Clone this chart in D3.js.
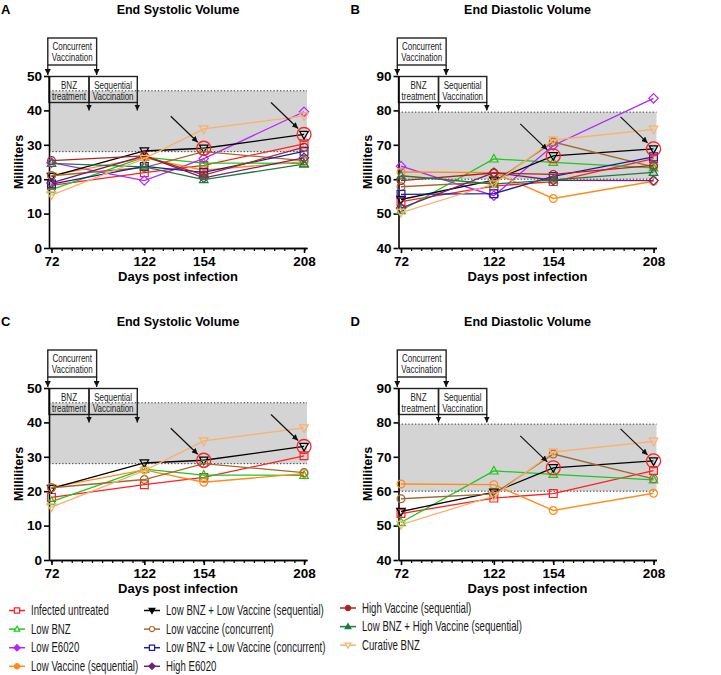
<!DOCTYPE html>
<html>
<head>
<meta charset="utf-8">
<script src="https://cdn.jsdelivr.net/npm/d3@7"></script>
<style>
  body { margin: 0; background: #fff; }
  svg text { font-family: Arial, "Liberation Sans", sans-serif; }
</style>
</head>
<body>
<svg id="chart" width="721" height="675"></svg>
<script>
// days of measurement (x categories)
var days = [72, 122, 154, 208];

var seriesNames = [
  "Infected untreated", "Low BNZ", "Low E6020", "Low Vaccine (sequential)",
  "Low BNZ + Low Vaccine (sequential)", "Low vaccine (concurrent)",
  "Low BNZ + Low Vaccine (concurrent)", "High E6020",
  "High Vaccine (sequential)", "Low BNZ + High Vaccine (sequential)", "Curative BNZ"
];
var seriesColors = ["#ff2020", "#1ec81e", "#b026ff", "#ff8c1a", "#000000", "#a0692e",
  "#1c1c9c", "#702070", "#b02222", "#1f7a3f", "#fbb06a"];
var seriesShapes = ["square", "triangle", "diamond", "circle", "triangleDown", "circle",
  "square", "diamond", "circle", "triangle", "triangleDown"];
var legendFilled = [false, false, true, true, true, false, false, true, true, true, false];

// End systolic volume (ml), one array per group
var esvInfected = [18.2, 21.9, 24.0, 30.3];
var esvLowBNZ = [17.0, 26.4, 24.7, 24.6];
var esvLowE6020 = [24.8, 19.6, 26.0, 39.6];
var esvLowVacSeq = [21.1, 26.2, 22.6, 25.1];
var esvBNZLowVacSeq = [20.8, 28.2, 29.0, 33.0];
var esvLowVacConc = [21.0, 23.4, 28.0, 25.4];
var esvBNZLowVacConc = [18.6, 23.7, 22.0, 28.1];
var esvHighE6020 = [18.9, 26.8, 20.4, 26.2];
var esvHighVacSeq = [25.4, 26.8, 21.2, 29.3];
var esvBNZHighVacSeq = [24.6, 23.6, 19.9, 24.4];
var esvCurative = [15.4, 26.0, 34.6, 38.4];

// End diastolic volume (ml)
var edvInfected = [53.5, 58.0, 59.3, 66.0];
var edvLowBNZ = [50.9, 65.9, 64.9, 63.3];
var edvLowE6020 = [63.8, 55.2, 69.8, 83.5];
var edvLowVacSeq = [62.1, 61.9, 54.4, 59.4];
var edvBNZLowVacSeq = [54.1, 59.7, 66.8, 68.8];
var edvLowVacConc = [57.8, 59.2, 70.8, 63.6];
var edvBNZLowVacConc = [55.6, 55.8, 60.8, 66.5];
var edvHighE6020 = [51.6, 61.9, 59.7, 59.6];
var edvHighVacSeq = [59.6, 61.8, 61.4, 64.0];
var edvBNZHighVacSeq = [61.0, 58.6, 59.8, 62.0];
var edvCurative = [50.3, 58.6, 71.4, 74.5];

var esvSeries = [esvInfected, esvLowBNZ, esvLowE6020, esvLowVacSeq, esvBNZLowVacSeq, esvLowVacConc,
  esvBNZLowVacConc, esvHighE6020, esvHighVacSeq, esvBNZHighVacSeq, esvCurative];
var edvSeries = [edvInfected, edvLowBNZ, edvLowE6020, edvLowVacSeq, edvBNZLowVacSeq, edvLowVacConc,
  edvBNZLowVacConc, edvHighE6020, edvHighVacSeq, edvBNZHighVacSeq, edvCurative];

// normal ranges (shaded bands)
var esvNormal = [28, 45.7];
var edvNormal = [60, 79.5];

// groups shown in the lower panels
var subsetGroups = [0, 1, 3, 4, 5, 10];
// highlighted group and days (red circles + arrows)
var highlightGroup = 4;
var highlightDays = [154, 208];

// treatment windows in days
var concurrentWindow = [70.0, 96.3];
var bnzWindow = [70.65, 92.2];
var sequentialWindow = [92.2, 118.2];

var plotW = 258, plotH = 172;
var allGroups = d3.range(seriesNames.length);

var panels = [
  { letter: "A", title: "End Systolic Volume", left: 49, top: 76, data: esvSeries, yDomain: [0, 50], band: esvNormal, groups: allGroups },
  { letter: "B", title: "End Diastolic Volume", left: 398.5, top: 76, data: edvSeries, yDomain: [40, 90], band: edvNormal, groups: allGroups },
  { letter: "C", title: "End Systolic Volume", left: 49, top: 388, data: esvSeries, yDomain: [0, 50], band: esvNormal, groups: subsetGroups },
  { letter: "D", title: "End Diastolic Volume", left: 398.5, top: 388, data: edvSeries, yDomain: [40, 90], band: edvNormal, groups: subsetGroups }
];

var svg = d3.select("#chart");

// arrowhead
svg.append("defs").append("marker")
    .attr("id", "arrow")
    .attr("viewBox", "0 0 10 10")
    .attr("refX", 10).attr("refY", 5)
    .attr("markerWidth", 6).attr("markerHeight", 6)
    .attr("markerUnits", "userSpaceOnUse")
    .attr("orient", "auto")
  .append("path")
    .attr("d", "M0,0L10,5L0,10Z")
    .attr("fill", "#111");

function markerPath(shape, r) {
  if (shape == "square") return "M" + (-r) + "," + (-r) + "h" + 2 * r + "v" + 2 * r + "h" + (-2 * r) + "Z";
  if (shape == "circle") return d3.symbol(d3.symbolCircle, Math.PI * r * r)();
  if (shape == "triangle") return "M0," + (-r * 1.15) + "L" + (r * 1.1) + "," + (r * 0.8) + "L" + (-r * 1.1) + "," + (r * 0.8) + "Z";
  if (shape == "triangleDown") return "M0," + (r * 1.15) + "L" + (r * 1.1) + "," + (-r * 0.8) + "L" + (-r * 1.1) + "," + (-r * 0.8) + "Z";
  return "M0," + (-r * 1.2) + "L" + (r * 1.2) + ",0L0," + (r * 1.2) + "L" + (-r * 1.2) + ",0Z";
}

// condensed text (no narrow font installed, so squeeze horizontally)
function narrowText(sel, x, y, s, size, sx, anchor) {
  return sel.append("text")
      .attr("transform", "translate(" + x + "," + y + ") scale(" + sx + ",1)")
      .attr("text-anchor", anchor)
      .attr("font-size", size + "px")
      .attr("fill", "#1a1a1a")
      .text(s);
}

var minorTicks = d3.range(72, 209, 5.45);

panels.forEach(function(p) {
  var x = d3.scaleLinear().domain([70.65, 209.6]).range([p.left, p.left + plotW]);
  var y = d3.scaleLinear().domain(p.yDomain).range([p.top + plotH, p.top]);
  var g = svg.append("g");

  // normal range band
  g.append("rect")
      .attr("x", p.left)
      .attr("y", y(p.band[1]))
      .attr("width", plotW)
      .attr("height", y(p.band[0]) - y(p.band[1]))
      .attr("fill", "#d4d4d4");
  p.band.forEach(function(v) {
    g.append("line")
        .attr("x1", p.left).attr("x2", p.left + plotW)
        .attr("y1", y(v)).attr("y2", y(v))
        .attr("stroke", "#333").attr("stroke-width", 1)
        .attr("stroke-dasharray", "1.3,2");
  });

  // treatment boxes
  var t = p.top;
  var boxes = [
    { win: concurrentWindow, y0: t - 38, y1: t - 11, lines: ["Concurrent", "Vaccination"] },
    { win: bnzWindow, y0: t + 0.5, y1: t + 26.5, lines: ["BNZ", "treatment"] },
    { win: sequentialWindow, y0: t + 0.5, y1: t + 26.5, lines: ["Sequential", "Vaccination"] }
  ];
  boxes.forEach(function(b) {
    var bx0 = x(b.win[0]), bx1 = x(b.win[1]);
    g.append("rect")
        .attr("x", bx0).attr("y", b.y0)
        .attr("width", bx1 - bx0).attr("height", b.y1 - b.y0)
        .attr("fill", "none").attr("stroke", "#222").attr("stroke-width", 1.4);
    b.lines.forEach(function(s, i) {
      narrowText(g, (bx0 + bx1) / 2, b.y0 + 12 + i * 11.2, s, 10.3, 0.78, "middle");
    });
  });
  // arrows under the boxes
  var arrowSpecs = [
    { day: concurrentWindow[0], y0: t - 11, y1: t - 1 },
    { day: concurrentWindow[1], y0: t - 11, y1: t - 1 },
    { day: bnzWindow[1], y0: t + 26.5, y1: t + 34.5 },
    { day: sequentialWindow[1], y0: t + 26.5, y1: t + 34.5 }
  ];
  arrowSpecs.forEach(function(a) {
    g.append("line")
        .attr("x1", x(a.day)).attr("x2", x(a.day))
        .attr("y1", a.y0).attr("y2", a.y1)
        .attr("stroke", "#111").attr("stroke-width", 1.2)
        .attr("marker-end", "url(#arrow)");
  });

  // axes
  var xAxis = g.append("g")
      .attr("transform", "translate(0," + (p.top + plotH) + ")")
      .call(d3.axisBottom(x).tickValues(days).tickSize(5).tickSizeOuter(0).tickPadding(3).tickFormat(d3.format("d")));
  var xMinor = g.append("g")
      .attr("transform", "translate(0," + (p.top + plotH) + ")")
      .call(d3.axisBottom(x).tickValues(minorTicks).tickSize(3).tickSizeOuter(0).tickFormat(""));
  var yAxis = g.append("g")
      .attr("transform", "translate(" + p.left + ",0)")
      .call(d3.axisLeft(y).ticks(5).tickSize(5).tickSizeOuter(0).tickPadding(2));
  [xAxis, xMinor, yAxis].forEach(function(ax) {
    ax.selectAll("path, line").attr("stroke", "#000").attr("stroke-width", 1.6);
    ax.selectAll("text").attr("font-size", "13.5px").attr("font-weight", "bold")
        .attr("font-family", "Arial, 'Liberation Sans', sans-serif").attr("fill", "#000");
  });
  xMinor.selectAll("line").attr("stroke-width", 1.2);

  // series lines and markers
  var line = d3.line()
      .x(function(d) { return x(d.day); })
      .y(function(d) { return y(d.value); });

  p.groups.forEach(function(k) {
    var pts = days.map(function(d, i) { return { day: d, value: p.data[k][i] }; });
    g.append("path")
        .datum(pts)
        .attr("d", line)
        .attr("fill", "none")
        .attr("stroke", seriesColors[k])
        .attr("stroke-width", 1.3);
    g.selectAll(null)
        .data(pts)
        .enter().append("path")
        .attr("transform", function(d) { return "translate(" + x(d.day) + "," + y(d.value) + ")"; })
        .attr("d", markerPath(seriesShapes[k], 3.9))
        .attr("fill", "none")
        .attr("stroke", seriesColors[k])
        .attr("stroke-width", 1.2);
  });

  // highlighted points: red circles with arrows
  highlightDays.forEach(function(d) {
    var cx = x(d), cy = y(p.data[highlightGroup][days.indexOf(d)]);
    g.append("circle")
        .attr("cx", cx).attr("cy", cy).attr("r", 7)
        .attr("fill", "none").attr("stroke", "#ff2020").attr("stroke-width", 1.3);
    g.append("line")
        .attr("x1", cx - 33).attr("y1", cy - 32)
        .attr("x2", cx - 6).attr("y2", cy - 6)
        .attr("stroke", "#111").attr("stroke-width", 1.2)
        .attr("marker-end", "url(#arrow)");
  });

  // titles and labels
  g.append("text")
      .attr("x", p.left + plotW / 2).attr("y", p.top - 62)
      .attr("text-anchor", "middle")
      .attr("font-size", "12.5px").attr("font-weight", "bold")
      .text(p.title);
  g.append("text")
      .attr("x", p.left - 48).attr("y", p.top - 62)
      .attr("font-size", "13px").attr("font-weight", "bold")
      .text(p.letter);
  g.append("text")
      .attr("x", p.left + plotW / 2).attr("y", p.top + plotH + 33)
      .attr("text-anchor", "middle")
      .attr("font-size", "13px").attr("font-weight", "bold")
      .text("Days post infection");
  g.append("text")
      .attr("transform", "translate(" + (p.left - 26.5) + "," + (p.top + plotH / 2) + ") rotate(-90)")
      .attr("text-anchor", "middle")
      .attr("font-size", "12.5px").attr("font-weight", "bold")
      .text("Milliliters");
});

// legend
var legendMarkX = [17, 152, 348];
var legendTextX = [31, 166, 362];
var legendTopY = [610.5, 610.5, 608];
var legendCol = [0, 0, 0, 0, 1, 1, 1, 1, 2, 2, 2];
var legendRow = [0, 1, 2, 3, 0, 1, 2, 3, 0, 1, 2];

var legend = svg.append("g");
allGroups.forEach(function(k) {
  var c = legendCol[k];
  var ly = legendTopY[c] + legendRow[k] * 18.6;
  legend.append("line")
      .attr("x1", legendMarkX[c] - 8).attr("x2", legendMarkX[c] + 8)
      .attr("y1", ly).attr("y2", ly)
      .attr("stroke", seriesColors[k]).attr("stroke-width", 1.5);
  legend.append("path")
      .attr("transform", "translate(" + legendMarkX[c] + "," + ly + ")")
      .attr("d", markerPath(seriesShapes[k], 2.6))
      .attr("fill", legendFilled[k] ? seriesColors[k] : "#fff")
      .attr("stroke", seriesColors[k]).attr("stroke-width", 1.2);
  narrowText(legend, legendTextX[c], ly + 4.5, seriesNames[k], 14, 0.69, "start");
});
</script>
</body>
</html>
